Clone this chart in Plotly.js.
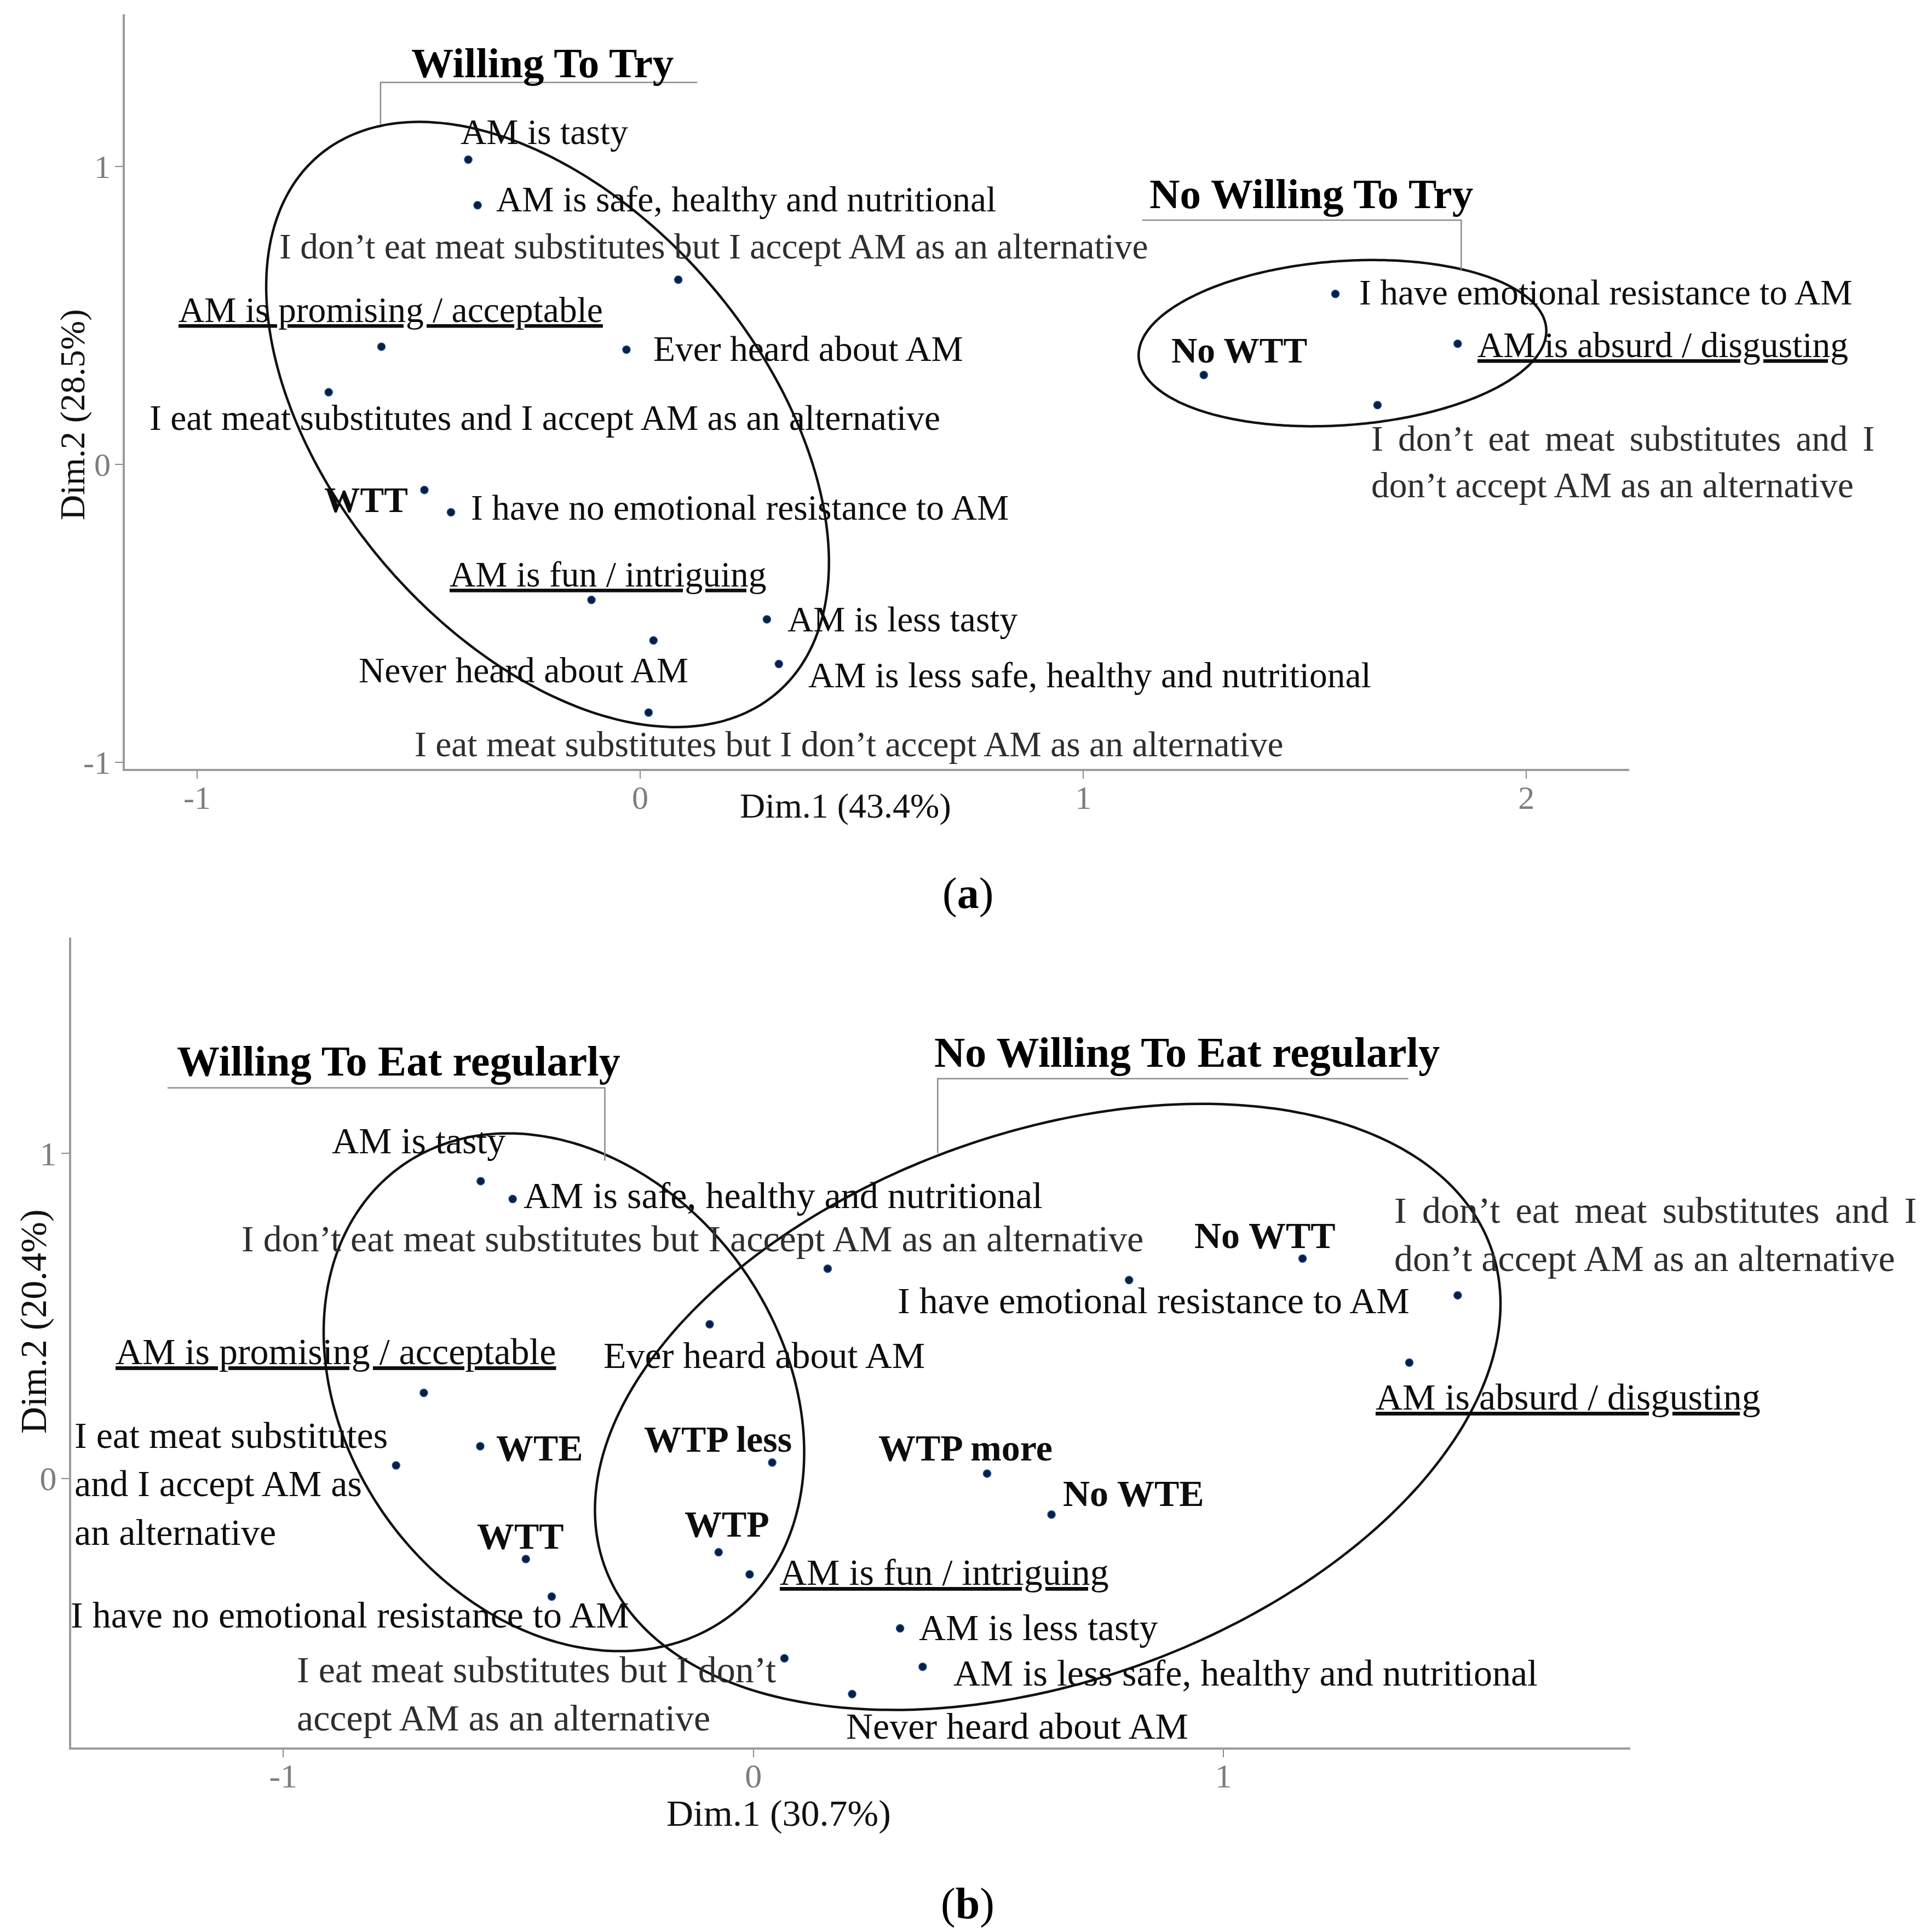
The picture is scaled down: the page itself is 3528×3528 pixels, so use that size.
<!DOCTYPE html>
<html>
<head>
<meta charset="utf-8">
<script src="https://cdn.plot.ly/plotly-3.0.1.min.js"></script>
<style>html,body{margin:0;padding:0;background:#fff;}</style>
</head>
<body>
<div id="chart" style="width:3528px;height:3528px;"></div>
<script>
// ---------------- DATA: panel (a) ----------------
const labelsA = [
  "AM is tasty",
  "AM is safe, healthy and nutritional",
  "I don’t eat meat substitutes but I accept AM as an alternative",
  "AM is promising / acceptable",
  "Ever heard about AM",
  "I eat meat substitutes and I accept AM as an alternative",
  "WTT",
  "I have no emotional resistance to AM",
  "AM is fun / intriguing",
  "AM is less tasty",
  "Never heard about AM",
  "AM is less safe, healthy and nutritional",
  "I eat meat substitutes but I don’t accept AM as an alternative",
  "I have emotional resistance to AM",
  "AM is absurd / disgusting",
  "No WTT",
  "I don’t eat meat substitutes and I<br>don’t accept AM as an alternative"
];
const dim1A = [-0.388, -0.367, 0.086, -0.584, -0.031, -0.703, -0.487, -0.427, -0.110, 0.286, 0.030, 0.313, 0.019, 1.569, 1.845, 1.272, 1.664];
const dim2A = [1.023, 0.870, 0.620, 0.395, 0.385, 0.242, -0.086, -0.161, -0.455, -0.520, -0.591, -0.670, -0.833, 0.572, 0.405, 0.300, 0.199];

// ---------------- DATA: panel (b) ----------------
const labelsB = [
  "AM is tasty",
  "AM is safe, healthy and nutritional",
  "I don’t eat meat substitutes but I accept AM as an alternative",
  "I have emotional resistance to AM",
  "No WTT",
  "I don’t eat meat substitutes and I<br>don’t accept AM as an alternative",
  "Ever heard about AM",
  "AM is absurd / disgusting",
  "AM is promising / acceptable",
  "WTE",
  "I eat meat substitutes<br>and I accept AM as<br>an alternative",
  "WTP less",
  "WTP more",
  "No WTE",
  "WTP",
  "WTT",
  "AM is fun / intriguing",
  "I have no emotional resistance to AM",
  "AM is less tasty",
  "I eat meat substitutes but I don’t<br>accept AM as an alternative",
  "AM is less safe, healthy and nutritional",
  "Never heard about AM"
];
const dim1B = [-0.580, -0.512, 0.158, 0.799, 1.168, 1.498, -0.093, 1.395, -0.701, -0.581, -0.760, 0.040, 0.497, 0.634, -0.074, -0.484, -0.008, -0.429, 0.312, 0.066, 0.360, 0.210];
const dim2B = [0.914, 0.859, 0.645, 0.610, 0.676, 0.563, 0.474, 0.356, 0.263, 0.099, 0.040, 0.049, 0.015, -0.111, -0.227, -0.248, -0.295, -0.363, -0.461, -0.553, -0.579, -0.663];

// axis texts
const axisTitlesA = ["Dim.1 (43.4%)", "Dim.2 (28.5%)"];
const axisTitlesB = ["Dim.1 (30.7%)", "Dim.2 (20.4%)"];
const tickValsXA = [-1, 0, 1, 2];
const tickValsYA = [-1, 0, 1];
const tickValsXB = [-1, 0, 1];
const tickValsYB = [0, 1];
const panelLabels = ["a", "b"];

// group titles (text and anchor in data units)
const groupTitlesA = ["Willing To Try", "No Willing To Try"];
const groupTitleXA = [-0.221, 1.514];
const groupTitleYA = [1.348, 0.909];
const groupTitlesB = ["Willing To Eat regularly", "No Willing To Eat regularly"];
const groupTitleXB = [-0.754, 0.922];
const groupTitleYB = [1.284, 1.311];

// bracket lines under group titles (data units)
const bracketsXA = [[-0.586, -0.586, 0.129], [1.133, 1.853, 1.853]];
const bracketsYA = [[1.141, 1.282, 1.282], [0.820, 0.820, 0.653]];
const bracketsXB = [[-1.246, -0.316, -0.316], [0.392, 0.392, 1.393]];
const bracketsYB = [[1.201, 1.201, 0.977], [1.000, 1.229, 1.229]];

// group outlines: [centerX, centerY, axisAx, axisAy, axisBx, axisBy] (data units)
const ellipsesA = [[-0.209, 0.134, 0.635, -0.463, 0, -0.904], [1.585, 0.407, 0.460, 0.041, 0, -0.276]];
const ellipsesB = [[-0.403, 0.265, 0.511, -0.185, 0, -0.774], [0.626, 0.220, 0.963, 0.317, 0, -0.876]];

// ---------------- STYLES / LABEL PLACEMENT ----------------
const FONT = "Liberation Serif, Times New Roman, serif";
// [xanchor, xshift(px), yshift(px), style]  style: n normal, b bold, u underline, g grey, j justify first line
const placeA = [
  ["left", -16, 50, "n"], ["left", 32, 11, "n"], ["center", 65, 61, "g"], ["center", 17, 67, "u"],
  ["left", 47, 2, "n"], ["center", 395, -47, "n"], ["right", -28, -18, "b"], ["left", 34, 9, "n"],
  ["center", 30, 47, "u"], ["left", 36, 0, "n"], ["right", 66, -54, "n"], ["left", 52, -20, "n"],
  ["center", 366, -58, "g"], ["left", 41, 3, "n"], ["left", 34, -2, "u"], ["center", 65, 45, "b"],
  ["left", -13, -104, "gj"]
];
const placeB = [
  ["right", 47, 74, "n"], ["left", 18, 7, "n"], ["center", -247, 55, "g"], ["center", 45, -38, "n"],
  ["center", -69, 42, "b"], ["left", -118, 111, "gj"], ["center", 100, -57, "n"], ["center", 290, -63, "u"],
  ["center", -161, 76, "u"], ["left", 27, -3, "b"], ["right", -13, -33, "n"], ["right", 38, 43, "b"],
  ["center", -39, 47, "b"], ["left", 19, 39, "b"], ["center", 15, 52, "b"], ["center", -10, 42, "b"],
  ["left", 53, 4, "u"], ["right", 144, -34, "n"], ["left", 32, 2, "n"], ["right", -13, -65, "g"],
  ["left", 54, -11, "n"], ["left", -13, -58, "n"]
];

function fmt(txt, style) {
  let t = txt;
  if (style.includes("j")) {
    const parts = t.split("<br>");
    parts[0] = parts[0].split(" ").join(" \u2006");
    t = parts.join("<br>");
  }
  if (style.includes("b")) t = "<b>" + t + "</b>";
  if (style.includes("u")) t = "<u>" + t + "</u>";
  return t;
}

function labelAnnots(labels, xs, ys, place, xref, yref, size) {
  return labels.map((lab, i) => ({
    x: xs[i], y: ys[i], xref: xref, yref: yref,
    text: fmt(lab, place[i][3]), showarrow: false,
    xanchor: place[i][0], yanchor: "middle", align: "left",
    xshift: place[i][1], yshift: place[i][2],
    font: {family: FONT, size: size, color: place[i][3].includes("g") ? "#2e2e2e" : "#0d0d0d"}
  }));
}

function ellipseTrace(e, xaxis, yaxis) {
  const xs = [], ys = [], n = 240;
  for (let i = 0; i <= n; i++) {
    const t = 2 * Math.PI * i / n;
    xs.push(e[0] + e[2] * Math.cos(t) + e[4] * Math.sin(t));
    ys.push(e[1] + e[3] * Math.cos(t) + e[5] * Math.sin(t));
  }
  return {x: xs, y: ys, xaxis: xaxis, yaxis: yaxis, mode: "lines", type: "scatter",
          line: {color: "#111", width: 4.5, shape: "spline"}, hoverinfo: "skip", showlegend: false};
}
function bracketTrace(bx, by, xaxis, yaxis) {
  return {x: bx, y: by, xaxis: xaxis, yaxis: yaxis, mode: "lines", type: "scatter",
          line: {color: "#8c8c8c", width: 2.5}, hoverinfo: "skip", showlegend: false};
}
function pointTrace(xs, ys, labels, xaxis, yaxis) {
  return {x: xs, y: ys, text: labels, xaxis: xaxis, yaxis: yaxis, mode: "markers", type: "scatter",
          marker: {size: 14, color: "#0a1f45", line: {color: "#1d4f91", width: 1.5}},
          hoverinfo: "text", showlegend: false};
}

const traces = [];
ellipsesA.forEach(e => traces.push(ellipseTrace(e, "x", "y")));
ellipsesB.forEach(e => traces.push(ellipseTrace(e, "x2", "y2")));
bracketsXA.forEach((bx, i) => traces.push(bracketTrace(bx, bracketsYA[i], "x", "y")));
bracketsXB.forEach((bx, i) => traces.push(bracketTrace(bx, bracketsYB[i], "x2", "y2")));
traces.push(pointTrace(dim1A, dim2A, labelsA, "x", "y"));
traces.push(pointTrace(dim1B, dim2B, labelsB, "x2", "y2"));

function axisStyle(domain, range, tickvals, tsize, standoff) {
  return {
    domain: domain, range: range, tickvals: tickvals, ticktext: tickvals.map(String),
    showgrid: false, zeroline: false, showline: true, linecolor: "#9b9b9b", linewidth: 4,
    ticks: "outside", ticklen: 14, tickwidth: 2, tickcolor: "#8a8a8a",
    ticklabelstandoff: standoff,
    tickfont: {family: FONT, size: tsize, color: "#7d7d7d"}, fixedrange: true
  };
}

const annotations = []
  .concat(labelAnnots(labelsA, dim1A, dim2A, placeA, "x", "y", 65.5))
  .concat(labelAnnots(labelsB, dim1B, dim2B, placeB, "x2", "y2", 68))
  .concat(groupTitlesA.map((g, i) => ({x: groupTitleXA[i], y: groupTitleYA[i], xref: "x", yref: "y",
      text: "<b>" + g + "</b>", showarrow: false, xanchor: "center", yanchor: "middle",
      font: {family: FONT, size: 77, color: "#000"}})))
  .concat(groupTitlesB.map((g, i) => ({x: groupTitleXB[i], y: groupTitleYB[i], xref: "x2", yref: "y2",
      text: "<b>" + g + "</b>", showarrow: false, xanchor: "center", yanchor: "middle",
      font: {family: FONT, size: 78, color: "#000"}})))
  .concat([
    {x: 0.4375, y: 0.5830, xref: "paper", yref: "paper", text: axisTitlesA[0], showarrow: false,
     xanchor: "center", yanchor: "middle", font: {family: FONT, size: 64, color: "#111"}},
    {x: 0.0374, y: 0.7854, xref: "paper", yref: "paper", text: axisTitlesA[1], showarrow: false, textangle: -90,
     xanchor: "center", yanchor: "middle", font: {family: FONT, size: 64, color: "#111"}},
    {x: 0.4030, y: 0.0615, xref: "paper", yref: "paper", text: axisTitlesB[0], showarrow: false,
     xanchor: "center", yanchor: "middle", font: {family: FONT, size: 68, color: "#111"}},
    {x: 0.0173, y: 0.3160, xref: "paper", yref: "paper", text: axisTitlesB[1], showarrow: false, textangle: -90,
     xanchor: "center", yanchor: "middle", font: {family: FONT, size: 68, color: "#111"}},
    {x: 0.5009, y: 0.5375, xref: "paper", yref: "paper", text: "(<b>" + panelLabels[0] + "</b>)", showarrow: false,
     xanchor: "center", yanchor: "middle", font: {family: FONT, size: 80, color: "#000"}},
    {x: 0.5009, y: 0.0147, xref: "paper", yref: "paper", text: "(<b>" + panelLabels[1] + "</b>)", showarrow: false,
     xanchor: "center", yanchor: "middle", font: {family: FONT, size: 80, color: "#000"}}
  ]);

const layout = {
  width: 3528, height: 3528,
  margin: {l: 0, r: 0, t: 0, b: 0},
  paper_bgcolor: "#ffffff", plot_bgcolor: "#ffffff",
  showlegend: false,
  xaxis: axisStyle([0.06463, 0.84325], [-1.163, 2.232], tickValsXA, 60, -17),
  yaxis: axisStyle([0.60204, 0.99263], [-1.022, 1.511], tickValsYA, 60, -4),
  xaxis2: axisStyle([0.03685, 0.84382], [-1.451, 1.865], tickValsXB, 62, -19),
  yaxis2: axisStyle([0.09552, 0.51474], [-0.827, 1.663], tickValsYB, 62, -4),
  annotations: annotations,
  font: {family: FONT}
};
layout.xaxis.anchor = "y"; layout.yaxis.anchor = "x";
layout.xaxis2.anchor = "y2"; layout.yaxis2.anchor = "x2";

Plotly.newPlot("chart", traces, layout, {staticPlot: true, displayModeBar: false});
</script>
</body>
</html>
